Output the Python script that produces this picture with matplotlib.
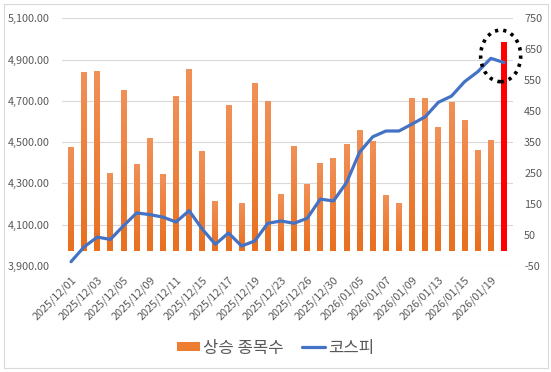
import numpy as np
import matplotlib
matplotlib.use('Agg')
import matplotlib.pyplot as plt
from matplotlib.patches import Ellipse, Rectangle
from matplotlib.colors import LinearSegmentedColormap
from matplotlib.transforms import blended_transform_factory

plt.rcParams['font.family'] = ['Noto Sans CJK KR', 'DejaVu Sans']

# trading days
dates = ['2025/12/01', '2025/12/02', '2025/12/03', '2025/12/04', '2025/12/05',
         '2025/12/08', '2025/12/09', '2025/12/10', '2025/12/11', '2025/12/12',
         '2025/12/15', '2025/12/16', '2025/12/17', '2025/12/18', '2025/12/19',
         '2025/12/22', '2025/12/23', '2025/12/24', '2025/12/26', '2025/12/29',
         '2025/12/30', '2026/01/02', '2026/01/05', '2026/01/06', '2026/01/07',
         '2026/01/08', '2026/01/09', '2026/01/12', '2026/01/13', '2026/01/14',
         '2026/01/15', '2026/01/16', '2026/01/19', '2026/01/20']

# number of rising stocks (right axis)
rising = [334, 577, 580, 249, 518, 278, 362, 246, 498, 586,
          320, 159, 469, 155, 541, 482, 184, 337, 214, 283,
          299, 343, 389, 353, 179, 153, 492, 492, 399, 480,
          422, 324, 357, 674]

# KOSPI close (left axis)
kospi = [3921, 3993, 4040, 4029, 4095, 4157, 4149, 4137, 4113, 4168,
         4079, 4005, 4060, 3997, 4021, 4107, 4118, 4107, 4131, 4224,
         4215, 4304, 4452, 4526, 4554, 4554, 4588, 4623, 4693, 4723,
         4793, 4841, 4906, 4886]

left_ticks = [3900, 4100, 4300, 4500, 4700, 4900, 5100]
right_ticks = [-50, 50, 150, 250, 350, 450, 550, 650, 750]

orange = '#ED7D31'
blue = '#4472C4'
grey = '#595959'

fig = plt.figure(figsize=(5.51, 3.72), dpi=100)
ax = fig.add_axes([62 / 551, 1 - 266 / 372, 451 / 551, 247.7 / 372])
ax2 = ax.twinx()

x = np.arange(len(dates))
colors = [orange] * (len(x) - 1) + ['#FF0000']
bars = ax.bar(x, rising, width=0.45, color=colors, zorder=2)

ax.set_ylim(right_ticks[0], right_ticks[-1])
ax2.set_ylim(left_ticks[0], left_ticks[-1])
ax.set_xlim(-0.69, len(x) - 1 + 0.69)

# excel-like vertical gradient on the orange bars
cmap = LinearSegmentedColormap.from_list('og', ['#E8701F', '#F19057'])
grad = np.linspace(0, 1, 100).reshape(-1, 1)
for b in bars[:-1]:
    bx, by = b.get_x(), b.get_y()
    im = ax.imshow(grad, cmap=cmap, aspect='auto', origin='lower',
                   extent=[bx, bx + b.get_width(), by, by + b.get_height()],
                   zorder=2.1)
    im.set_clip_path(b)
ax.set_aspect('auto')
ax.set_xlim(-0.69, len(x) - 1 + 0.69)
ax.set_ylim(right_ticks[0], right_ticks[-1])

# gridlines from the left axis, kept behind the bars
tr = blended_transform_factory(ax.transAxes, ax2.transData)
for v in left_ticks:
    ax.plot([0, 1], [v, v], transform=tr, color='#D9D9D9', lw=0.8, zorder=1)

line, = ax2.plot(x, kospi, color=blue, lw=2.3, solid_capstyle='round', zorder=3)

# dotted circle around the last points
ell = Ellipse((32.75, 4918), 3.05, 250, fill=False, edgecolor='black',
              lw=2.6, linestyle=(0, (0.9, 1.4)), zorder=5, clip_on=False)
ax2.add_patch(ell)

ax.yaxis.tick_right()
ax2.yaxis.tick_left()
ax.set_yticks(right_ticks)
ax.set_yticklabels([str(v) for v in right_ticks])
ax2.set_yticks(left_ticks)
ax2.set_yticklabels(['{:,.2f}'.format(v) for v in left_ticks])

ax.set_xticks(x[::2])
ax.set_xticklabels(dates[::2], rotation=45, ha='right', rotation_mode='anchor')

for a in (ax, ax2):
    for s in a.spines.values():
        s.set_visible(False)
    a.tick_params(length=0, colors=grey, labelsize=7.8)
ax.tick_params(axis='y', pad=8)
ax2.tick_params(axis='y', pad=9)
ax.tick_params(axis='x', pad=6)

leg = fig.legend([bars[0], line], ['상승 종목수', '코스피'], loc='center',
                 bbox_to_anchor=(0.5, 1 - 348 / 372), ncol=2, frameon=False,
                 fontsize=12, handlelength=1.4, handleheight=0.5,
                 handletextpad=0.15, columnspacing=1.1, labelcolor=grey)

fig.patches.append(Rectangle((4 / 551, 4 / 372), 544 / 551, 364 / 372,
                             transform=fig.transFigure, fill=False,
                             edgecolor='#D9D9D9', lw=0.8))

fig.savefig('out.png', dpi=100)
